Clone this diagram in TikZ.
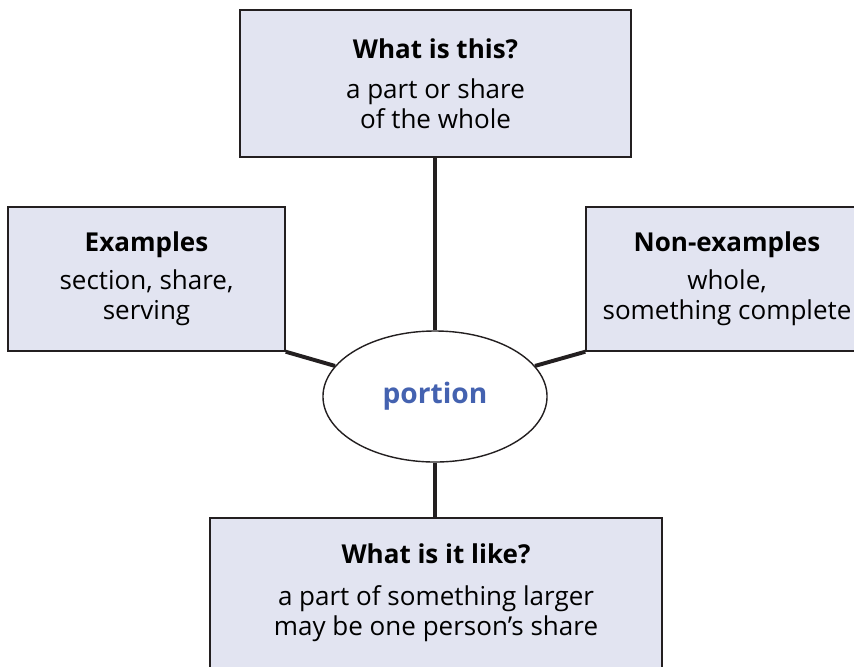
\documentclass[tikz,border=0pt]{standalone}
\usepackage{fontspec}
\setmainfont{Open Sans}
\usepackage{tikz}
\usetikzlibrary{shapes.geometric, positioning}
\definecolor{boxfill}{RGB}{226,228,241}
\definecolor{wordblue}{RGB}{68,98,176}
\definecolor{inkgray}{RGB}{35,31,32}

\begin{document}
\begin{tikzpicture}[
  x=0.025cm, y=-0.025cm,
  infobox/.style={rectangle, draw=inkgray, line width=1pt, fill=boxfill,
                  align=center, font=\fontsize{18.5}{21.3}\selectfont, inner sep=0pt},
  hub/.style={ellipse, draw=inkgray, line width=1pt, fill=white, inner sep=0pt,
              minimum width=5.6cm, minimum height=3.275cm,
              font=\fontsize{20}{22}\selectfont\bfseries, text=wordblue},
  link/.style={inkgray, line width=2.8pt},
]
  \clip (0,0) rectangle (854,666);

  \node[infobox, minimum width=9.775cm, minimum height=3.675cm] (what) at (435.5,83.5)
    {\textbf{What is this?}\\[0.25cm] a part or share\\ of the whole};
  \node[infobox, minimum width=6.925cm, minimum height=3.6cm] (ex) at (146.5,279)
    {\textbf{Examples}\\[0.2cm] section, share,\\ serving};
  \node[infobox, minimum width=7.05cm, minimum height=3.6cm] (nonex) at (727,279)
    {\textbf{Non-examples}\\[0.2cm] whole,\\ something complete};
  \node[infobox, minimum width=11.3cm, minimum height=3.75cm] (like) at (436,593)
    {\textbf{What is it like?}\\[0.3cm] a part of something larger\\ may be one person’s share};

  \node[hub] (word) at (435,396.5) {portion};

  \draw[link] (what.south -| word.north) -- (word.north);
  \draw[link] (word.south) -- (like.north -| word.south);
  \draw[link] (ex.south east) -- (word.163);
  \draw[link] (nonex.south west) -- (word.17);
\end{tikzpicture}
\end{document}
